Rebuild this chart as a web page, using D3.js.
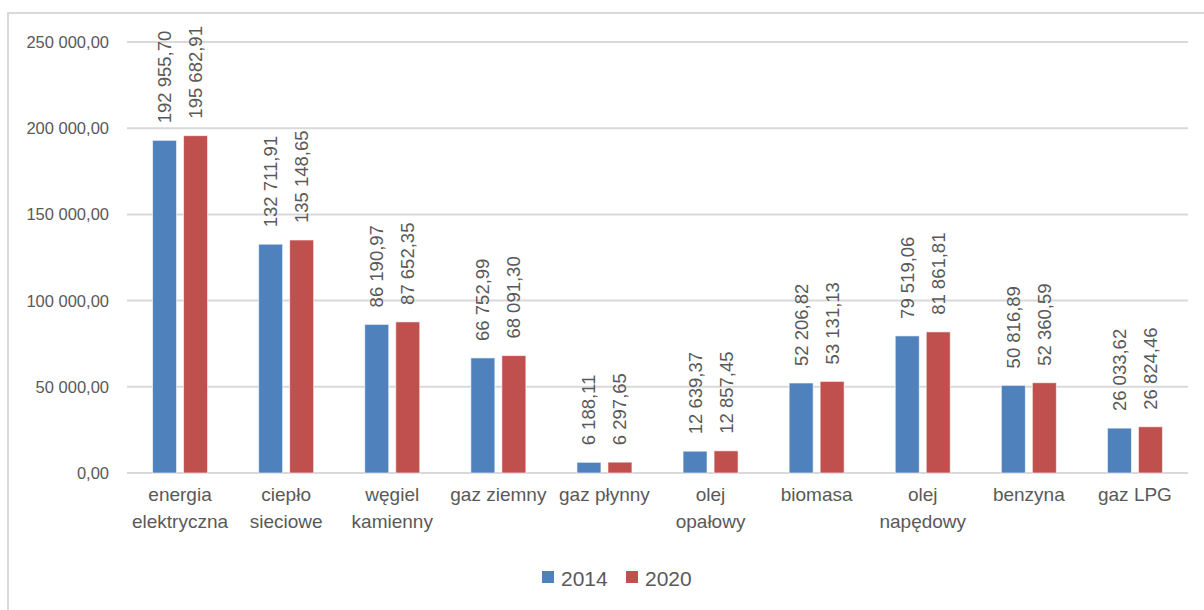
<!DOCTYPE html>
<html><head><meta charset="utf-8">
<script src="https://cdn.jsdelivr.net/npm/d3@7"></script>
<style>body{margin:0;background:#fff;} text{font-family:"Liberation Sans",Arial,sans-serif;fill:#595959;}</style>
</head><body><svg id="c" width="1204" height="610"></svg>
<script>
const categories = [["energia","elektryczna"],["ciepło","sieciowe"],["węgiel","kamienny"],["gaz ziemny"],["gaz płynny"],["olej","opałowy"],["biomasa"],["olej","napędowy"],["benzyna"],["gaz LPG"]];
const series = ["2014","2020"];
const values2014 = [192955.70,132711.91,86190.97,66752.99,6188.11,12639.37,52206.82,79519.06,50816.89,26033.62];
const values2020 = [195682.91,135148.65,87652.35,68091.30,6297.65,12857.45,53131.13,81861.81,52360.59,26824.46];
const yTicks = [0,50000,100000,150000,200000,250000];
const colors = ["#4F81BD","#C0504D"];

const svg = d3.select("#c");
svg.append("rect").attr("x",8).attr("y",13).attr("width",1250).attr("height",700)
  .attr("fill","none").attr("stroke","#d9d9d9").attr("stroke-width",2);

const pLeft=127, pRight=1188, pTop=42, pBottom=473;
const x = d3.scaleBand().domain(d3.range(categories.length)).range([pLeft,pRight]);
const y = d3.scaleLinear().domain([0,250000]).range([pBottom,pTop]);
const fmt = v => { const s = v.toFixed(2).replace(".",","); const [i,d]=s.split(","); return i.replace(/\B(?=(\d{3})+(?!\d))/g," ")+","+d; };

svg.append("g").selectAll("line").data(yTicks).join("line")
  .attr("x1",pLeft).attr("x2",pRight).attr("y1",d=>y(d)).attr("y2",d=>y(d))
  .attr("stroke","#d9d9d9").attr("stroke-width",2);
svg.append("g").selectAll("text").data(yTicks).join("text")
  .attr("x",109).attr("y",d=>y(d)).attr("text-anchor","end").attr("dominant-baseline","central")
  .attr("font-size",16.5).text(d=>fmt(d));

const bw = 24, off = [-15.5, 15.5];
const data = [];
categories.forEach((c,i)=>{ data.push({i,s:0,v:values2014[i]}); data.push({i,s:1,v:values2020[i]}); });
const g = svg.append("g");
g.selectAll("rect").data(data).join("rect")
  .attr("x",d=>x(d.i)+x.bandwidth()/2+off[d.s]-bw/2).attr("width",bw)
  .attr("y",d=>y(d.v)).attr("height",d=>pBottom-y(d.v))
  .attr("fill",d=>colors[d.s]).attr("stroke","#fff").attr("stroke-opacity",0.6).attr("stroke-width",1);
g.selectAll("text").data(data).join("text")
  .attr("transform",d=>`translate(${x(d.i)+x.bandwidth()/2+off[d.s]},${y(d.v)-17}) rotate(-90)`)
  .attr("dominant-baseline","central").attr("font-size",18.5).text(d=>fmt(d.v));

const cl = svg.append("g");
categories.forEach((c,i)=>{
  const t = cl.append("text").attr("x",x(i)+x.bandwidth()/2).attr("y",501).attr("text-anchor","middle").attr("font-size",19);
  c.forEach((line,k)=>t.append("tspan").attr("x",x(i)+x.bandwidth()/2).attr("dy",k===0?0:27).text(line));
});

const lg = svg.append("g");
const lx = [542,626];
series.forEach((s,k)=>{
  lg.append("rect").attr("x",lx[k]).attr("y",571).attr("width",12).attr("height",12).attr("fill",colors[k]);
  lg.append("text").attr("x",lx[k]+19).attr("y",578).attr("dominant-baseline","central").attr("font-size",21).text(s);
});
</script></body></html>
